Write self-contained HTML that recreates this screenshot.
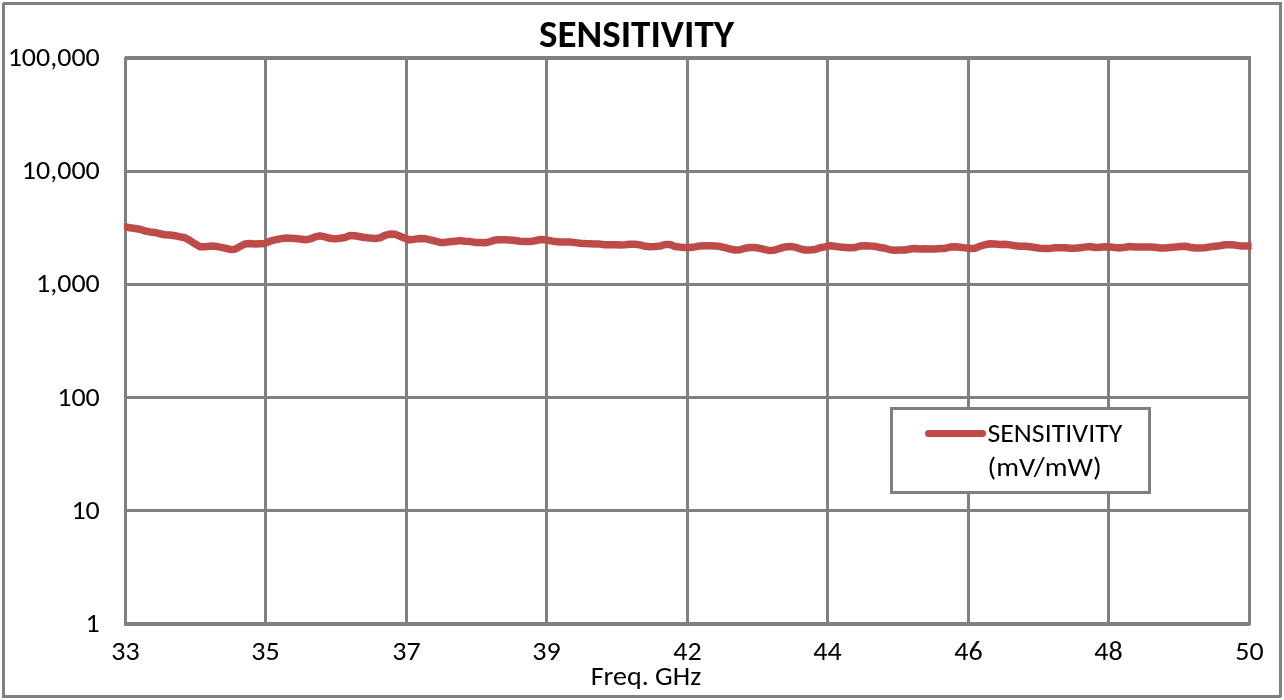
<!DOCTYPE html>
<html><head><meta charset="utf-8"><title>SENSITIVITY</title>
<style>
html,body{margin:0;padding:0;background:#fff;}
body{width:1284px;height:700px;overflow:hidden;}
svg{display:block;}
text{font-family:Carlito, 'Liberation Sans', sans-serif;fill:#000;}
</style></head><body>
<svg width="1284" height="700" viewBox="0 0 1284 700">
<rect x="0" y="0" width="1284" height="700" fill="#fff"/>
<rect x="3.5" y="3.5" width="1277" height="693" fill="none" stroke="#808080" stroke-width="3"/>
<rect x="264" y="56" width="3" height="570" fill="#808080"/>
<rect x="405" y="56" width="3" height="570" fill="#808080"/>
<rect x="545" y="56" width="3" height="570" fill="#808080"/>
<rect x="686" y="56" width="3" height="570" fill="#808080"/>
<rect x="826" y="56" width="3" height="570" fill="#808080"/>
<rect x="967" y="56" width="3" height="570" fill="#808080"/>
<rect x="1107" y="56" width="3" height="570" fill="#808080"/>
<rect x="124" y="170" width="1127" height="3" fill="#808080"/>
<rect x="124" y="283" width="1127" height="3" fill="#808080"/>
<rect x="124" y="396" width="1127" height="3" fill="#808080"/>
<rect x="124" y="509" width="1127" height="3" fill="#808080"/>
<rect x="124" y="56" width="1127" height="4" fill="#808080"/>
<rect x="124" y="622" width="1127" height="4" fill="#808080"/>
<rect x="124" y="56" width="3" height="570" fill="#808080"/>
<rect x="1248" y="56" width="3" height="570" fill="#808080"/>
<rect x="2" y="2" width="1" height="1" fill="#fff"/>
<rect x="1281" y="697" width="1" height="1" fill="#fff"/>
<rect x="124" y="56" width="1" height="1" fill="#fff"/>
<rect x="1250" y="625" width="1" height="1" fill="#fff"/>
<clipPath id="pc"><rect x="124" y="50" width="1127.6" height="580"/></clipPath>
<polyline clip-path="url(#pc)" points="124,226.6 127,227.1 130,227.8 135,228.5 140,229.2 145,231 150,231.9 155,232.4 160,233.8 165,234.8 170,235 175,235.7 180,236.8 185,237.8 190,240.6 195,243.8 200,246.8 205,246.8 210,246.1 215,246.3 220,247.1 225,248.2 230,249.4 235,249.2 240,246.5 245,243.9 250,243.6 255,244.1 260,243.7 265,243.4 270,241.2 275,239.9 280,238.9 285,238.1 290,238.3 295,238.5 300,239 305,239.7 310,238.9 315,236.9 320,235.8 325,236.9 330,238.3 335,238.9 340,238.3 345,237.5 350,235.6 355,235.8 360,236.7 365,237.5 370,238.1 375,238.5 380,237.9 385,235.4 390,234 395,234.2 400,236.2 405,238.3 410,239.9 415,239.1 420,238.5 425,238.7 430,239.9 435,241 440,242.4 445,242.4 450,241.8 455,241.2 460,240.6 465,241.2 470,241.6 475,242.4 480,242.6 485,242.8 490,241.6 495,240.1 500,239.8 505,239.7 510,240.1 515,240.5 520,241.2 525,241.6 530,241.6 535,240.8 540,239.5 545,239.7 550,240.6 555,241.6 560,242 565,242 570,242 575,242.6 580,243.2 585,243.6 590,243.8 595,244.1 600,244.1 605,244.7 610,244.7 615,244.7 620,244.9 625,244.7 630,244.3 635,244.3 640,244.9 645,246.3 650,246.7 655,246.5 660,246.1 665,244.5 670,244.5 675,246.5 680,247.1 685,247.6 690,247.5 695,246.9 700,245.9 705,245.7 710,245.7 715,245.9 720,246.5 725,247.7 730,249 735,250 740,249.8 745,248.2 750,247.5 755,247.5 760,248.4 765,249.6 770,250.6 775,250 780,248.4 785,246.9 790,246.5 795,247.1 800,248.8 805,250 810,250 815,249.6 820,247.7 825,246.9 830,245.7 835,246.3 840,247.1 845,247.5 850,247.8 855,247.5 860,246.1 865,245.7 870,246.1 875,246.3 880,247.5 885,248.2 890,249.8 895,250.2 900,249.9 905,250 910,249 915,248.6 920,249 925,248.8 930,249 935,249 940,248.6 945,248.4 950,247.1 955,246.7 960,247.3 965,247.9 970,248.4 975,248.2 980,246.3 985,244.7 990,243.7 995,243.9 1000,244.4 1005,244.3 1010,244.9 1015,245.7 1020,246.3 1025,246.3 1030,246.7 1035,247.5 1040,248.2 1045,248.4 1050,248.4 1055,247.8 1060,247.7 1065,247.7 1070,248.2 1075,248.2 1080,247.7 1085,247.1 1090,246.5 1095,247.5 1100,247.2 1105,246.7 1110,246.9 1115,247.5 1120,247.9 1125,247.3 1130,246.5 1135,246.9 1140,247.1 1145,246.9 1150,247.1 1155,247.3 1160,248 1165,247.9 1170,247.5 1175,247.1 1180,246.5 1185,246.2 1190,247.2 1195,248 1200,248 1205,247.7 1210,246.9 1215,246.3 1220,245.7 1225,244.7 1230,244.7 1235,245.1 1240,245.9 1245,246.1 1251.6,245.9" fill="none" stroke="#BE4B48" stroke-width="7.5" stroke-linejoin="round" stroke-linecap="square"/>
<rect x="891.5" y="408.5" width="258" height="84" fill="#fff" stroke="#808080" stroke-width="3"/>
<line x1="928.5" y1="433.4" x2="982.5" y2="433.4" stroke="#BE4B48" stroke-width="7" stroke-linecap="round"/>
<text x="636.5" y="47" font-size="39.1" text-anchor="middle" font-weight="bold" textLength="195.1" lengthAdjust="spacingAndGlyphs">SENSITIVITY</text>
<text x="99.8" y="66" font-size="27.5" text-anchor="end" font-weight="normal" textLength="92.13" lengthAdjust="spacingAndGlyphs">100,000</text>
<text x="99.8" y="179" font-size="27.5" text-anchor="end" font-weight="normal" textLength="77.94" lengthAdjust="spacingAndGlyphs">10,000</text>
<text x="99.8" y="292" font-size="27.5" text-anchor="end" font-weight="normal" textLength="63.75" lengthAdjust="spacingAndGlyphs">1,000</text>
<text x="99.8" y="406" font-size="27.5" text-anchor="end" font-weight="normal" textLength="42.57" lengthAdjust="spacingAndGlyphs">100</text>
<text x="99.8" y="519" font-size="27.5" text-anchor="end" font-weight="normal" textLength="28.38" lengthAdjust="spacingAndGlyphs">10</text>
<text x="99.8" y="632" font-size="27.5" text-anchor="end" font-weight="normal" textLength="14.19" lengthAdjust="spacingAndGlyphs">1</text>
<text x="125.5" y="660" font-size="27.5" text-anchor="middle" font-weight="normal" textLength="28.38" lengthAdjust="spacingAndGlyphs">33</text>
<text x="265.5" y="660" font-size="27.5" text-anchor="middle" font-weight="normal" textLength="28.38" lengthAdjust="spacingAndGlyphs">35</text>
<text x="406.5" y="660" font-size="27.5" text-anchor="middle" font-weight="normal" textLength="28.38" lengthAdjust="spacingAndGlyphs">37</text>
<text x="546.5" y="660" font-size="27.5" text-anchor="middle" font-weight="normal" textLength="28.38" lengthAdjust="spacingAndGlyphs">39</text>
<text x="687.5" y="660" font-size="27.5" text-anchor="middle" font-weight="normal" textLength="28.38" lengthAdjust="spacingAndGlyphs">42</text>
<text x="827.5" y="660" font-size="27.5" text-anchor="middle" font-weight="normal" textLength="28.38" lengthAdjust="spacingAndGlyphs">44</text>
<text x="968.5" y="660" font-size="27.5" text-anchor="middle" font-weight="normal" textLength="28.38" lengthAdjust="spacingAndGlyphs">46</text>
<text x="1108.5" y="660" font-size="27.5" text-anchor="middle" font-weight="normal" textLength="28.38" lengthAdjust="spacingAndGlyphs">48</text>
<text x="1249.5" y="660" font-size="27.5" text-anchor="middle" font-weight="normal" textLength="28.38" lengthAdjust="spacingAndGlyphs">50</text>
<text x="646" y="685" font-size="27.5" text-anchor="middle" font-weight="normal" textLength="110.47" lengthAdjust="spacingAndGlyphs">Freq. GHz</text>
<text x="987.4" y="442" font-size="27.5" text-anchor="start" font-weight="normal" textLength="135.0" lengthAdjust="spacingAndGlyphs">SENSITIVITY</text>
<text x="987.6" y="476" font-size="27.5" text-anchor="start" font-weight="normal" textLength="114" lengthAdjust="spacingAndGlyphs">(mV/mW)</text>
</svg>
</body></html>
